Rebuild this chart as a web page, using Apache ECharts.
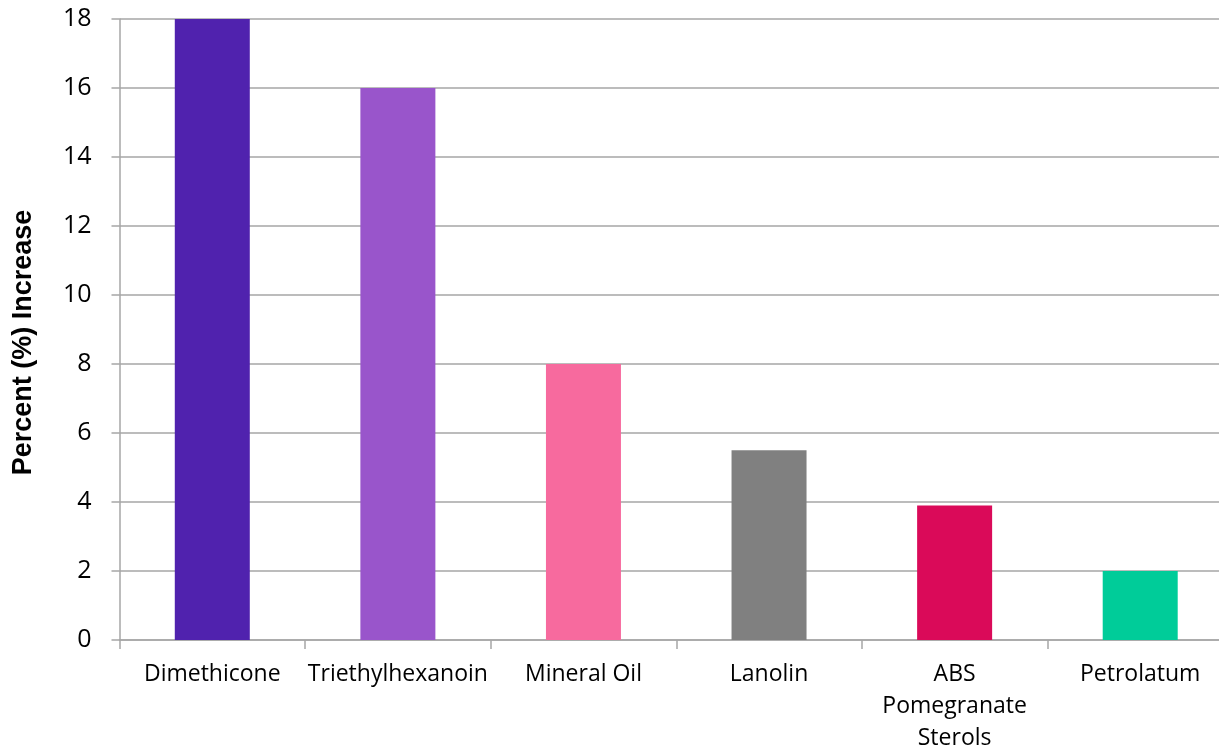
<!DOCTYPE html>
<html>
<head>
<meta charset="utf-8">
<script src="https://cdn.jsdelivr.net/npm/echarts@6/dist/echarts.min.js"></script>
<style>html,body{margin:0;padding:0;background:#fff;overflow:hidden}#c{width:1219px;height:749px}</style>
</head>
<body>
<div id="c"></div>
<script>
const categories = ['Dimethicone', 'Triethylhexanoin', 'Mineral Oil', 'Lanolin', 'ABS\nPomegranate\nSterols', 'Petrolatum'];
const values = [18, 16, 8, 5.5, 3.9, 2];
const barColors = ['#5022AE', '#9955CB', '#F76A9E', '#808080', '#DA0A59', '#00CC99'];
const yTicks = { min: 0, max: 18, interval: 2 };
const yTitle = 'Percent (%) Increase';

const chart = echarts.init(document.getElementById('c'), null, { renderer: 'canvas' });
chart.setOption({
  animation: false,
  grid: { left: 119.5, right: -14, top: 19, bottom: 109, containLabel: false, outerBoundsMode: 'none' },
  xAxis: {
    type: 'category',
    data: categories,
    axisLine: { lineStyle: { color: '#A6A6A6', width: 1.5 } },
    axisTick: { show: true, length: 9, alignWithLabel: false, lineStyle: { color: '#A6A6A6', width: 1.5 } },
    axisLabel: { color: '#000', fontFamily: 'Open Sans', fontSize: 23, margin: 18, lineHeight: 32, interval: 0 }
  },
  yAxis: {
    type: 'value',
    min: yTicks.min, max: yTicks.max, interval: yTicks.interval,
    name: yTitle,
    nameLocation: 'middle',
    nameGap: 82,
    nameRotate: 90,
    nameTextStyle: { color: '#000', fontFamily: 'Liberation Sans', fontWeight: 'bold', fontSize: 27, padding: [0, 26, 0, 0] },
    axisLine: { show: true, lineStyle: { color: '#A6A6A6', width: 1.5 } },
    axisTick: { show: true, length: 8, lineStyle: { color: '#A6A6A6', width: 1.5 } },
    splitLine: { show: true, lineStyle: { color: '#A6A6A6', width: 1.5 } },
    axisLabel: { color: '#000', fontFamily: 'Open Sans', fontSize: 25, margin: 28 }
  },
  series: [{
    type: 'bar',
    data: values.map((v, i) => ({ value: v, itemStyle: { color: barColors[i] } })),
    barWidth: 75
  }]
});
</script>
</body>
</html>
